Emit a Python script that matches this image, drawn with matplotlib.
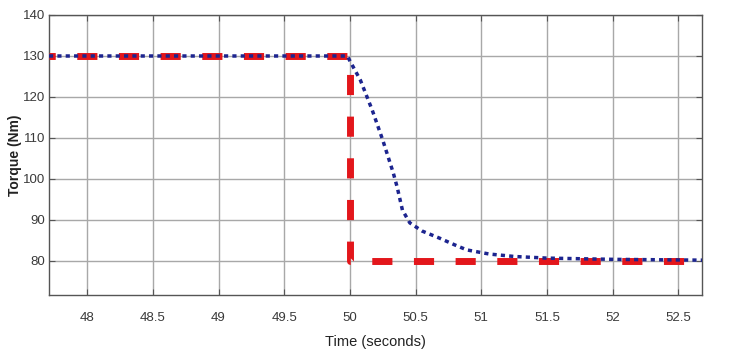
import numpy as np
import matplotlib
matplotlib.use("Agg")
import matplotlib.pyplot as plt

# reference torque (step) and measured torque
ref_t = [47.71, 50.0, 50.0, 52.68]
ref_q = [130, 130, 80, 80]

meas_t = [47.71, 49.0, 49.98, 50.08, 50.17, 50.25, 50.33, 50.36, 50.40, 50.456,
          50.55, 50.68, 50.80, 50.89, 51.06, 51.25, 51.5, 52.0, 52.68]
meas_q = [130, 130, 130, 124.1, 116.8, 109.5, 101.5, 98, 92.4, 89.3,
          87.3, 85.6, 83.9, 82.7, 81.7, 81.1, 80.7, 80.4, 80.2]

xticks = [48, 48.5, 49, 49.5, 50, 50.5, 51, 51.5, 52, 52.5]
xticklabels = ["48", "48.5", "49", "49.5", "50", "50.5", "51", "51.5", "52", "52.5"]
yticks = [80, 90, 100, 110, 120, 130, 140]

RED   = "#e3161b"
NAVY  = "#1c248f"
GRID  = "#a8a8a8"
FRAME = "#555555"
TXT   = "#3a3a3a"

plt.rcParams["font.family"] = ["Liberation Sans", "DejaVu Sans"]

fig = plt.figure(figsize=(7.36, 3.63), dpi=100)
ax = fig.add_axes([0.0666, 0.1873, 0.8872, 0.7714])

ax.plot(ref_t, ref_q, color=RED, linewidth=5.0, linestyle=(2.0, (2.9, 3.1)),
        dash_capstyle="butt", zorder=3)
ax.plot(meas_t, meas_q, color=NAVY, linewidth=2.5, linestyle=(0, (1.2, 1.2)),
        zorder=4)

ax.set_xlim(47.71, 52.68)
ax.set_ylim(71.7, 140)
ax.set_xticks(xticks)
ax.set_xticklabels(xticklabels)
ax.set_yticks(yticks)

ax.grid(True, color=GRID, linewidth=1.0)
ax.set_axisbelow(True)
ax.tick_params(direction="in", length=4, width=0.8, colors=FRAME,
               labelcolor=TXT, labelsize=9.5, top=True, right=True)
ax.tick_params(axis="x", pad=12)
ax.tick_params(axis="y", pad=3)
for sp in ax.spines.values():
    sp.set_edgecolor(FRAME)
    sp.set_linewidth(1.0)

ax.set_xlabel("Time (seconds)", fontsize=10.5, color="#222222", labelpad=8)
ax.set_ylabel("Torque (Nm)", fontsize=10, fontweight="bold", color="#222222")
ax.yaxis.set_label_coords(-0.041, 0.5)

fig.savefig("out.png", dpi=100)
